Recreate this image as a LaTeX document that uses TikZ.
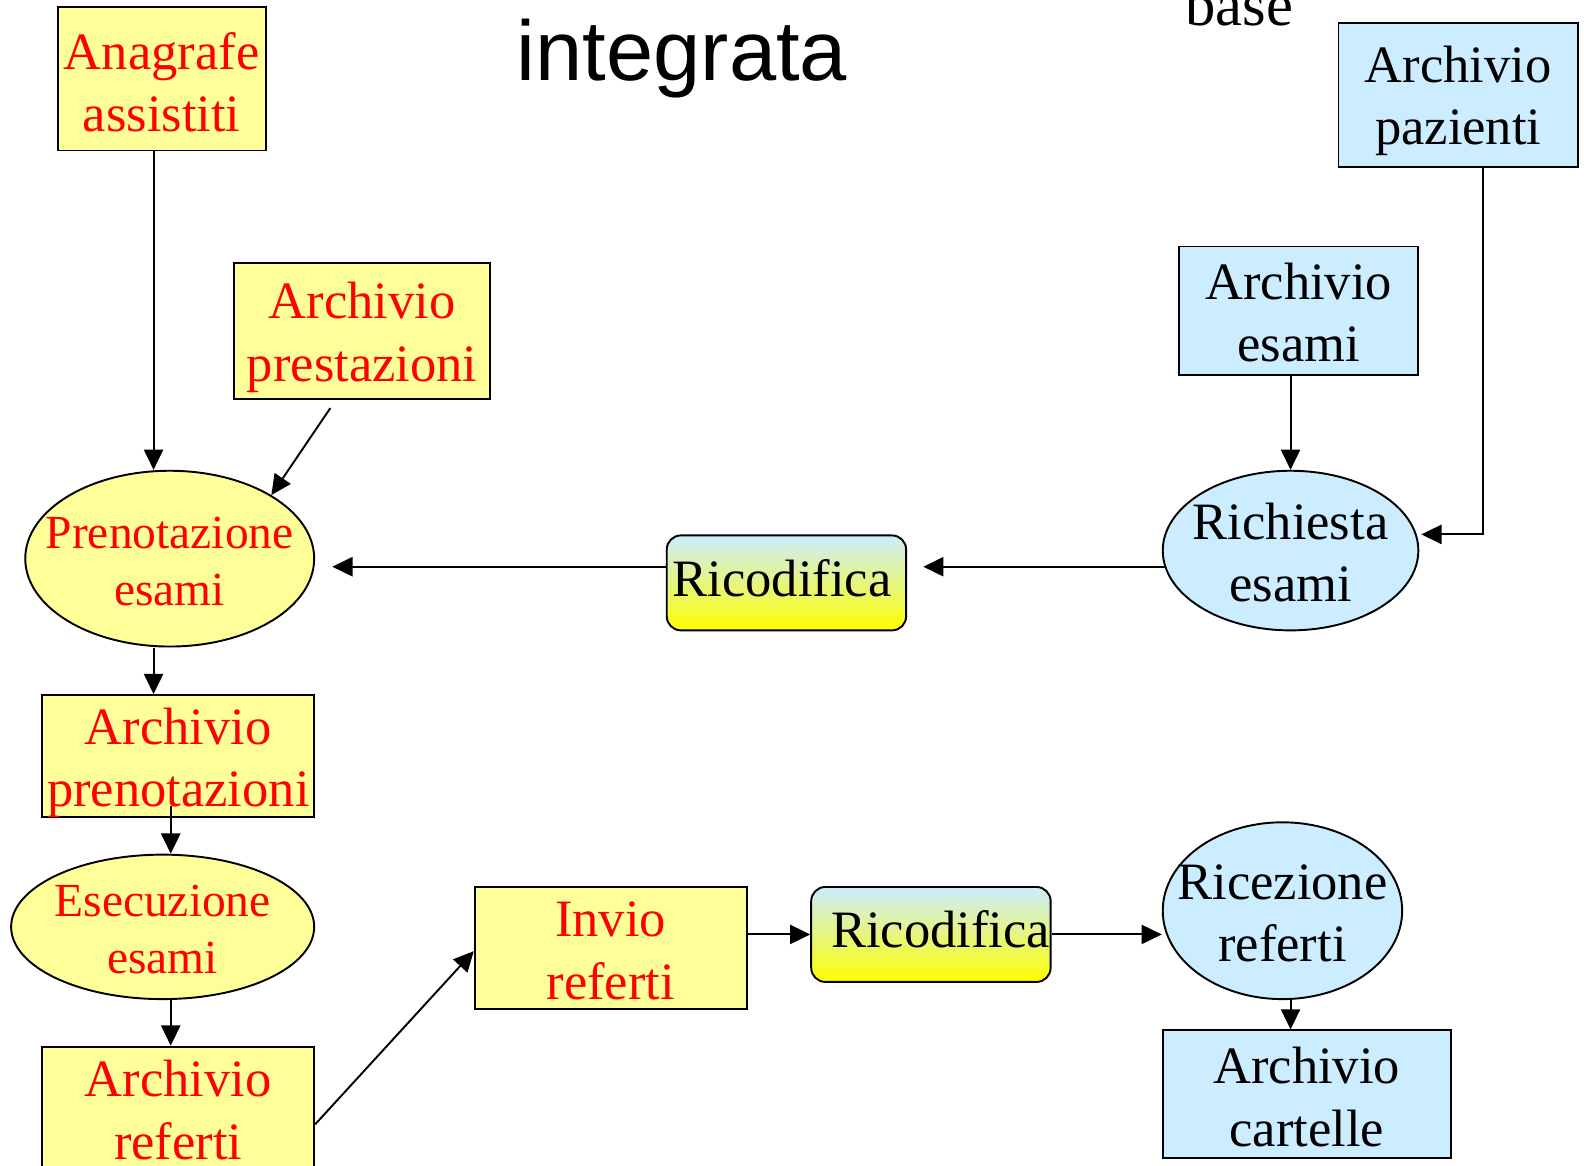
\documentclass[tikz,border=0pt]{standalone}
\usepackage{fontspec}
\setmainfont{Liberation Serif}
\newfontfamily\arialfont{Liberation Sans}
\usetikzlibrary{shapes.geometric,arrows.meta,calc}
\definecolor{ylw}{HTML}{FFFF99}
\definecolor{lblue}{HTML}{CCECFF}
\definecolor{rd}{HTML}{FF0000}
\tikzset{
  box/.style={draw, line width=1.9pt, rectangle, inner sep=0pt},
  ybox/.style={box, fill=ylw},
  bbox/.style={box, fill=lblue},
  gbox/.style={box, rounded corners=14pt, top color=lblue, bottom color=yellow},
  ell/.style={draw, line width=1.9pt, ellipse, inner sep=0pt},
  yell/.style={ell, fill=ylw},
  bell/.style={ell, fill=lblue},
  rtxt/.style={align=center, text=rd, inner sep=0pt, font=\fontsize{52}{62}\selectfont},
  ktxt/.style={align=center, text=black, inner sep=0pt, font=\fontsize{52}{62}\selectfont},
  rstxt/.style={align=center, text=rd, inner sep=0pt, font=\fontsize{47}{56}\selectfont},
  arr/.style={line width=1.9pt, -{Triangle[length=20pt,width=19pt]}},
}
\begin{document}
\begin{tikzpicture}[x=1pt,y=-1pt]
\useasboundingbox (0,0) rectangle (1568,1154);
\clip (0,0) rectangle (1568,1154);
\fill[white] (0,0) rectangle (1568,1154);

% titles
\node[anchor=base, inner sep=0pt, font=\arialfont\fontsize{84}{92}\selectfont] (title) at (675,80) {integrata};
\node[anchor=base, inner sep=0pt, font=\fontsize{60}{70}\selectfont] (base) at (1227,25) {base};

% rectangles
\node[ybox, minimum width=206pt, minimum height=142pt] (anag) at (160,78) {};
\node[rtxt] (anag-t) at (160,81.5) {Anagrafe\\assistiti};
\node[bbox, minimum width=237pt, minimum height=142pt] (paz) at (1443.5,94) {};
\node[ktxt] (paz-t) at (1443.5,100) {Archivio\\pazienti};
\node[ybox, minimum width=253pt, minimum height=135pt] (prest) at (358.5,327.5) {};
\node[rtxt] (prest-t) at (358.5,334) {Archivio\\prestazioni};
\node[bbox, minimum width=237pt, minimum height=127pt] (esami) at (1285.5,307.5) {};
\node[ktxt] (esami-t) at (1285.5,309.5) {Archivio\\esami};
\node[ybox, minimum width=269pt, minimum height=121pt] (aprn) at (176.5,748.5) {};
\node[rtxt] (aprn-t) at (176.5,755) {Archivio\\prenotazioni};
\node[ybox, minimum width=269pt, minimum height=126pt] (aref) at (176.5,1099) {};
\node[rtxt] (aref-t) at (176.5,1099) {Archivio\\referti};
\node[ybox, minimum width=269pt, minimum height=121pt] (invio) at (604.5,938.5) {};
\node[rtxt] (invio-t) at (604.5,941) {Invio\\referti};
\node[bbox, minimum width=285pt, minimum height=126pt] (cart) at (1293.5,1083) {};
\node[ktxt] (cart-t) at (1293.5,1086) {Archivio\\cartelle};

% gradient boxes
\node[gbox, minimum width=237pt, minimum height=94pt] (ric1) at (778.5,577) {};
\node[ktxt] (ric1-t) at (774,572) {Ricodifica};
\node[gbox, minimum width=237pt, minimum height=94pt] (ric2) at (921.5,925) {};
\node[ktxt] (ric2-t) at (931,920) {Ricodifica};

% ellipses
\node[yell, minimum width=286pt, minimum height=174pt] (pren) at (168,553) {};
\node[rstxt] (pren-t) at (168,556) {Prenotazione\\esami};
\node[bell, minimum width=253pt, minimum height=158pt] (rich) at (1277.5,545) {};
\node[ktxt] (rich-t) at (1277.5,547) {Richiesta\\esami};
\node[yell, minimum width=300pt, minimum height=143pt] (esec) at (161,917.5) {};
\node[rstxt] (esec-t) at (161,920) {Esecuzione\\esami};
\node[bell, minimum width=237pt, minimum height=175pt] (ricez) at (1269.5,901.5) {};
\node[ktxt] (ricez-t) at (1269.5,904) {Ricezione\\referti};

% connectors
\draw[arr] ([xshift=-8pt]anag.south) -- ([xshift=-8pt]anag.south |- pren.north);
\draw[arr] ([xshift=-31.5pt,yshift=-8pt]prest.south) -- (pren.32);
\draw[arr] ([xshift=24.5pt]paz.south) |- ([yshift=16pt,xshift=2pt]rich.east);
\draw[arr] (esami.south -| rich.north) -- (rich.north);
\draw[arr] ([yshift=-16pt,xshift=3pt]rich.west) -- ([xshift=16pt,yshift=16pt]ric1.east);
\draw[arr] ([yshift=16pt]ric1.west) -- ([xshift=17pt,yshift=-8pt]pren.east);
\draw[arr] ([xshift=-16pt]pren.south) -- ([xshift=-16pt]pren.south |- aprn.north);
\draw[arr] ([xshift=-7.5pt,yshift=12pt]aprn.south) -- ([xshift=8pt]esec.north);
\draw[arr] ([xshift=8pt]esec.south) -- ([xshift=8pt]esec.south |- aref.north);
\draw[arr] ([yshift=-14pt]aref.east) -- ([yshift=-3pt]invio.west);
\draw[arr] (invio.east |- ric2.west) -- (ric2.west);
\draw[arr] (ric2.east) -- (ric2.east -| ricez.west);
\draw[arr] ([xshift=8pt]ricez.south) -- ([xshift=8pt]ricez.south |- cart.north);
\end{tikzpicture}
\end{document}
